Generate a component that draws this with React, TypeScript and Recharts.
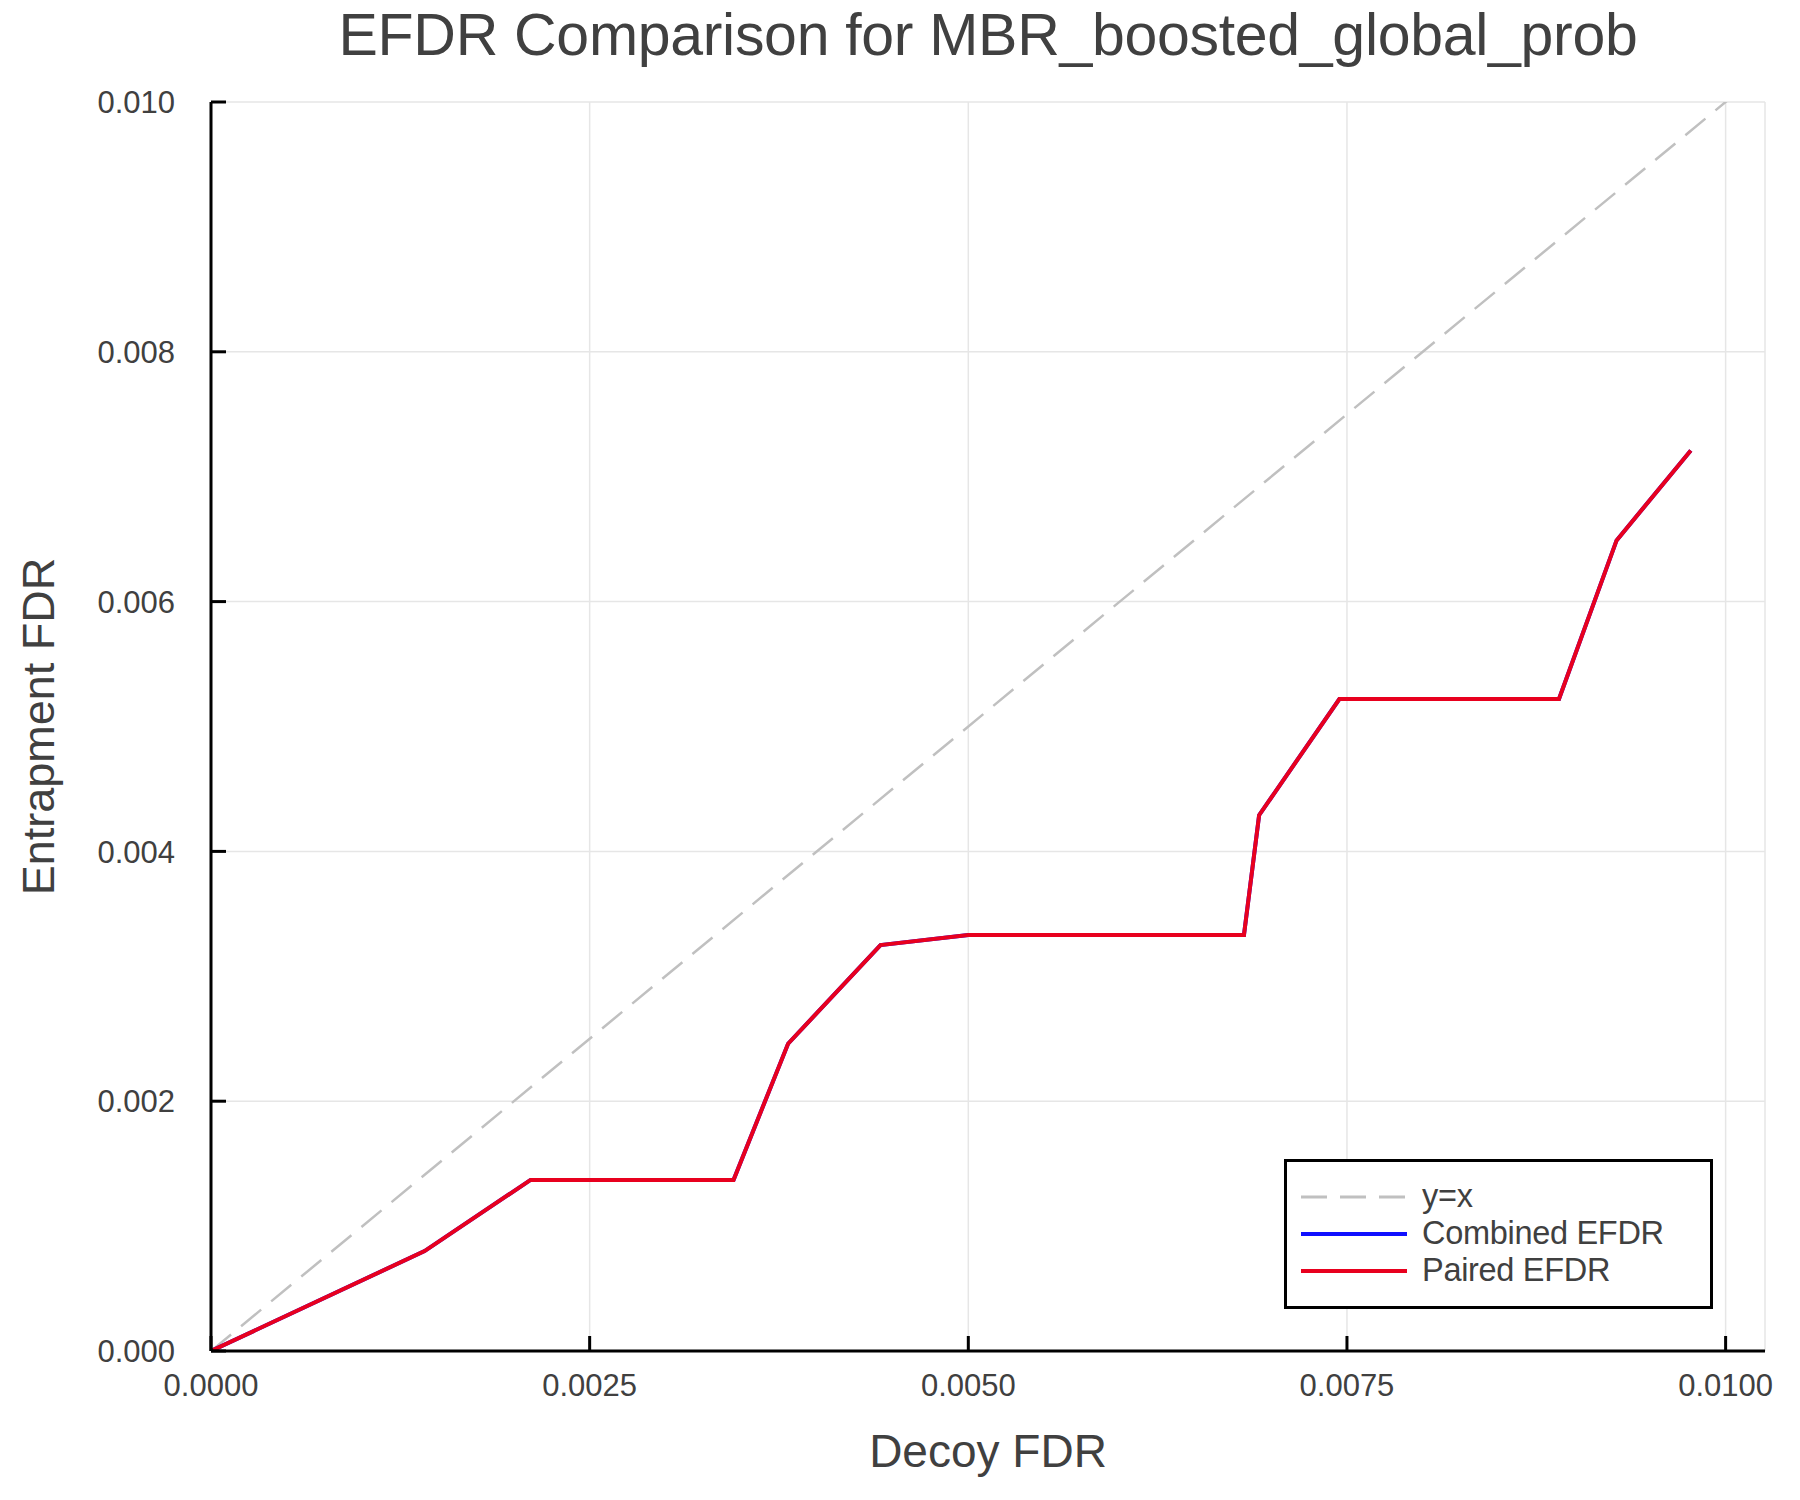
import { LineChart, Line, XAxis, YAxis, CartesianGrid, Legend } from 'recharts';

const decoyFdr = [0, 0.00141, 0.00211, 0.00345, 0.00381, 0.00442, 0.005, 0.00682, 0.00692, 0.00745, 0.0089, 0.00928, 0.00977];
const combinedEfdr = [0, 0.0008, 0.00137, 0.00137, 0.00246, 0.00325, 0.00333, 0.00333, 0.00429, 0.00522, 0.00522, 0.00649, 0.00721];
const pairedEfdr = [0, 0.0008, 0.00137, 0.00137, 0.00246, 0.00325, 0.00333, 0.00333, 0.00429, 0.00522, 0.00522, 0.00649, 0.00721];
const diagonal = [0, 0.01026];

const xTicks = [0, 0.0025, 0.005, 0.0075, 0.01];
const yTicks = [0, 0.002, 0.004, 0.006, 0.008, 0.01];
const xDomain = [0, 0.01026];
const yDomain = [0, 0.01];

const seriesNames = ['y=x', 'Combined EFDR', 'Paired EFDR'];

const FONT = "'Liberation Sans', Arial, Helvetica, sans-serif";
const TEXT = '#404040';

const diagData = diagonal.map((v) => ({ x: v, y: v }));
const combinedData = decoyFdr.map((x, i) => ({ x, y: combinedEfdr[i] }));
const pairedData = decoyFdr.map((x, i) => ({ x, y: pairedEfdr[i] }));

const XTick = ({ x, y, payload }: any) => (
  <g>
    <line x1={x} x2={x} y1={y} y2={y - 15} stroke="#000" strokeWidth={3} />
    <text x={x} y={y + 45} textAnchor="middle" fontSize={31} fill={TEXT} fontFamily={FONT}>
      {Number(payload.value).toFixed(4)}
    </text>
  </g>
);

const YTick = ({ x, y, payload }: any) => (
  <g>
    <line x1={x} x2={x + 15} y1={y} y2={y} stroke="#000" strokeWidth={3} />
    <text x={x - 36} y={y} dy="0.36em" textAnchor="end" fontSize={31} fill={TEXT} fontFamily={FONT}>
      {Number(payload.value).toFixed(3)}
    </text>
  </g>
);

const XLabel = ({ viewBox }: any) => (
  <text
    x={viewBox.x + viewBox.width / 2}
    y={1467}
    textAnchor="middle"
    fontSize={46}
    fill={TEXT}
    fontFamily={FONT}
  >
    Decoy FDR
  </text>
);

const YLabel = ({ viewBox }: any) => {
  const cy = viewBox.y + viewBox.height / 2;
  return (
    <text
      x={38}
      y={cy}
      dy="0.36em"
      transform={`rotate(-90, 38, ${cy})`}
      textAnchor="middle"
      fontSize={45}
      fill={TEXT}
      fontFamily={FONT}
    >
      Entrapment FDR
    </text>
  );
};

const LegendBox = ({ payload }: any) => {
  const items = [...(payload || [])].sort(
    (a: any, b: any) => seriesNames.indexOf(a.value) - seriesNames.indexOf(b.value)
  );
  return (
    <div
      style={{
        width: 429,
        height: 150,
        boxSizing: 'border-box',
        border: '3px solid #000',
        background: '#fff',
        padding: '16px 0 0 14px',
        fontFamily: FONT,
      }}
    >
      {items.map((entry: any) => (
        <div key={entry.value} style={{ height: 37, display: 'flex', alignItems: 'center' }}>
          <svg width={106} height={10} style={{ display: 'block' }}>
            <line
              x1={0}
              x2={106}
              y1={5}
              y2={5}
              stroke={entry.color}
              strokeWidth={entry.payload?.strokeDasharray ? 3 : 4}
              strokeDasharray={entry.payload?.strokeDasharray}
              strokeLinecap={entry.payload?.strokeDasharray ? 'butt' : 'round'}
            />
          </svg>
          <span style={{ marginLeft: 15, fontSize: 32.5, color: TEXT, lineHeight: '37px', letterSpacing: -0.3 }}>
            {entry.value}
          </span>
        </div>
      ))}
    </div>
  );
};

export default function App() {
  return (
    <div style={{ position: 'absolute', left: 0, top: 0, width: 1800, height: 1500, background: '#fff' }}>
      <div
        style={{
          position: 'absolute',
          left: 211,
          width: 1554,
          top: 6,
          textAlign: 'center',
          fontSize: 59,
          lineHeight: '59px',
          color: TEXT,
          fontFamily: FONT,
          letterSpacing: -0.3,
          zIndex: 2,
        }}
      >
        EFDR Comparison for MBR_boosted_global_prob
      </div>
      <LineChart width={1800} height={1500} margin={{ top: 102, right: 35, bottom: 0, left: 0 }}>
        <CartesianGrid stroke="#e6e6e6" strokeWidth={1.5} />
        <XAxis
          type="number"
          dataKey="x"
          domain={xDomain}
          allowDataOverflow
          ticks={xTicks}
          interval={0}
          height={149}
          tickSize={0}
          tickMargin={0}
          tickLine={false}
          tick={<XTick />}
          axisLine={{ stroke: '#000', strokeWidth: 3 }}
          label={<XLabel />}
        />
        <YAxis
          type="number"
          dataKey="y"
          domain={yDomain}
          allowDataOverflow
          ticks={yTicks}
          interval={0}
          width={211}
          tickSize={0}
          tickMargin={0}
          tickLine={false}
          tick={<YTick />}
          axisLine={{ stroke: '#000', strokeWidth: 3 }}
          label={<YLabel />}
        />
        <Line
          data={diagData}
          dataKey="y"
          name={seriesNames[0]}
          stroke="#c0c0c0"
          strokeWidth={2.5}
          strokeDasharray="26 13"
          dot={false}
          activeDot={false}
          isAnimationActive={false}
        />
        <Line
          data={combinedData}
          dataKey="y"
          name={seriesNames[1]}
          stroke="#1010ff"
          strokeWidth={4}
          dot={false}
          activeDot={false}
          isAnimationActive={false}
        />
        <Line
          data={pairedData}
          dataKey="y"
          name={seriesNames[2]}
          stroke="#e8001e"
          strokeWidth={4}
          dot={false}
          activeDot={false}
          isAnimationActive={false}
        />
        <Legend
          layout="vertical"
          align="center"
          verticalAlign="middle"
          content={<LegendBox />}
          wrapperStyle={{ left: 1284, top: 1159, width: 429, height: 150 }}
        />
      </LineChart>
    </div>
  );
}
